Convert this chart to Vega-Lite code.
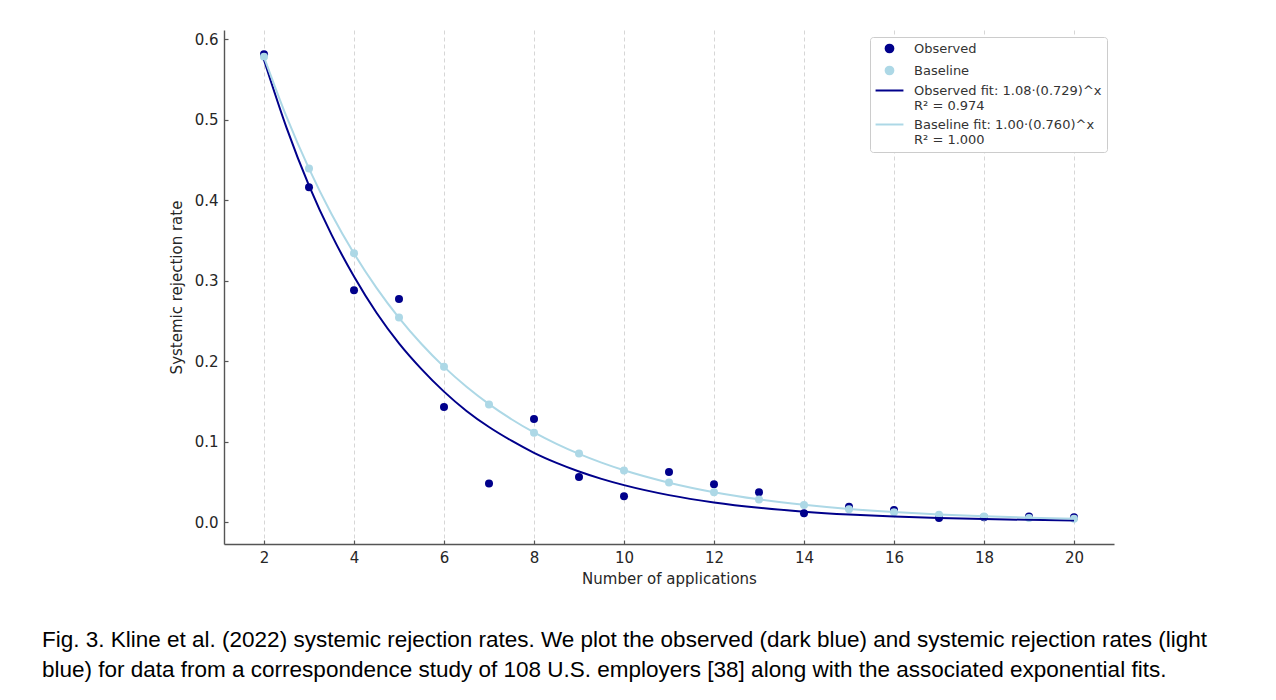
{
  "$schema": "https://vega.github.io/schema/vega-lite/v6.json",
  "autosize": {"type": "none"},
  "padding": {"left": 224, "top": 30, "right": 162, "bottom": 156},
  "width": 890,
  "height": 514,
  "background": "white",
  "config": {
    "view": {"stroke": null},
    "font": "DejaVu Sans",
    "axis": {
      "labelFont": "DejaVu Sans",
      "titleFont": "DejaVu Sans",
      "labelFontSize": 15,
      "titleFontSize": 15,
      "titleFontWeight": "normal",
      "labelColor": "#262626",
      "titleColor": "#262626",
      "domainColor": "#555555",
      "domainWidth": 1.4,
      "tickColor": "#555555",
      "tickWidth": 1.2,
      "tickSize": -4,
      "labelPadding": 10
    }
  },
  "title": {
    "text": ["Fig. 3.  Kline et al. (2022) systemic rejection rates. We plot the observed (dark blue) and systemic rejection rates (light", "blue) for data from a correspondence study of 108 U.S. employers [38] along with the associated exponential fits."],
    "orient": "bottom",
    "anchor": "start",
    "frame": "group",
    "dx": -182,
    "offset": 43,
    "font": "Liberation Sans",
    "fontSize": 22.5,
    "fontWeight": "normal",
    "lineHeight": 30,
    "color": "#000000"
  },
  "data": {
    "values": [
      {"x": 2, "series": "Observed", "kind": "point", "value": 0.581},
      {"x": 3, "series": "Observed", "kind": "point", "value": 0.416},
      {"x": 4, "series": "Observed", "kind": "point", "value": 0.288},
      {"x": 5, "series": "Observed", "kind": "point", "value": 0.277},
      {"x": 6, "series": "Observed", "kind": "point", "value": 0.143},
      {"x": 7, "series": "Observed", "kind": "point", "value": 0.048},
      {"x": 8, "series": "Observed", "kind": "point", "value": 0.128},
      {"x": 9, "series": "Observed", "kind": "point", "value": 0.056},
      {"x": 10, "series": "Observed", "kind": "point", "value": 0.032},
      {"x": 11, "series": "Observed", "kind": "point", "value": 0.062},
      {"x": 12, "series": "Observed", "kind": "point", "value": 0.047},
      {"x": 13, "series": "Observed", "kind": "point", "value": 0.037},
      {"x": 14, "series": "Observed", "kind": "point", "value": 0.011},
      {"x": 15, "series": "Observed", "kind": "point", "value": 0.019},
      {"x": 16, "series": "Observed", "kind": "point", "value": 0.015},
      {"x": 17, "series": "Observed", "kind": "point", "value": 0.005},
      {"x": 18, "series": "Observed", "kind": "point", "value": 0.006},
      {"x": 19, "series": "Observed", "kind": "point", "value": 0.007},
      {"x": 20, "series": "Observed", "kind": "point", "value": 0.006},
      {"x": 2, "series": "Baseline", "kind": "point", "value": 0.578},
      {"x": 3, "series": "Baseline", "kind": "point", "value": 0.439},
      {"x": 4, "series": "Baseline", "kind": "point", "value": 0.334},
      {"x": 5, "series": "Baseline", "kind": "point", "value": 0.254},
      {"x": 6, "series": "Baseline", "kind": "point", "value": 0.193},
      {"x": 7, "series": "Baseline", "kind": "point", "value": 0.146},
      {"x": 8, "series": "Baseline", "kind": "point", "value": 0.111},
      {"x": 9, "series": "Baseline", "kind": "point", "value": 0.085},
      {"x": 10, "series": "Baseline", "kind": "point", "value": 0.064},
      {"x": 11, "series": "Baseline", "kind": "point", "value": 0.049},
      {"x": 12, "series": "Baseline", "kind": "point", "value": 0.037},
      {"x": 13, "series": "Baseline", "kind": "point", "value": 0.028},
      {"x": 14, "series": "Baseline", "kind": "point", "value": 0.021},
      {"x": 15, "series": "Baseline", "kind": "point", "value": 0.016},
      {"x": 16, "series": "Baseline", "kind": "point", "value": 0.012},
      {"x": 17, "series": "Baseline", "kind": "point", "value": 0.009},
      {"x": 18, "series": "Baseline", "kind": "point", "value": 0.007},
      {"x": 19, "series": "Baseline", "kind": "point", "value": 0.005},
      {"x": 20, "series": "Baseline", "kind": "point", "value": 0.004},
      {"x": 2, "series": "Observed fit: 1.08·(0.729)^x|R² = 0.974", "kind": "fit", "value": 0.574},
      {"x": 2.5, "series": "Observed fit: 1.08·(0.729)^x|R² = 0.974", "kind": "fit", "value": 0.490},
      {"x": 3, "series": "Observed fit: 1.08·(0.729)^x|R² = 0.974", "kind": "fit", "value": 0.418},
      {"x": 3.5, "series": "Observed fit: 1.08·(0.729)^x|R² = 0.974", "kind": "fit", "value": 0.357},
      {"x": 4, "series": "Observed fit: 1.08·(0.729)^x|R² = 0.974", "kind": "fit", "value": 0.305},
      {"x": 4.5, "series": "Observed fit: 1.08·(0.729)^x|R² = 0.974", "kind": "fit", "value": 0.260},
      {"x": 5, "series": "Observed fit: 1.08·(0.729)^x|R² = 0.974", "kind": "fit", "value": 0.222},
      {"x": 5.5, "series": "Observed fit: 1.08·(0.729)^x|R² = 0.974", "kind": "fit", "value": 0.190},
      {"x": 6, "series": "Observed fit: 1.08·(0.729)^x|R² = 0.974", "kind": "fit", "value": 0.162},
      {"x": 6.5, "series": "Observed fit: 1.08·(0.729)^x|R² = 0.974", "kind": "fit", "value": 0.138},
      {"x": 7, "series": "Observed fit: 1.08·(0.729)^x|R² = 0.974", "kind": "fit", "value": 0.118},
      {"x": 7.5, "series": "Observed fit: 1.08·(0.729)^x|R² = 0.974", "kind": "fit", "value": 0.101},
      {"x": 8, "series": "Observed fit: 1.08·(0.729)^x|R² = 0.974", "kind": "fit", "value": 0.086},
      {"x": 8.5, "series": "Observed fit: 1.08·(0.729)^x|R² = 0.974", "kind": "fit", "value": 0.0735},
      {"x": 9, "series": "Observed fit: 1.08·(0.729)^x|R² = 0.974", "kind": "fit", "value": 0.0628},
      {"x": 9.5, "series": "Observed fit: 1.08·(0.729)^x|R² = 0.974", "kind": "fit", "value": 0.0536},
      {"x": 10, "series": "Observed fit: 1.08·(0.729)^x|R² = 0.974", "kind": "fit", "value": 0.0458},
      {"x": 11, "series": "Observed fit: 1.08·(0.729)^x|R² = 0.974", "kind": "fit", "value": 0.0334},
      {"x": 12, "series": "Observed fit: 1.08·(0.729)^x|R² = 0.974", "kind": "fit", "value": 0.0243},
      {"x": 13, "series": "Observed fit: 1.08·(0.729)^x|R² = 0.974", "kind": "fit", "value": 0.0177},
      {"x": 14, "series": "Observed fit: 1.08·(0.729)^x|R² = 0.974", "kind": "fit", "value": 0.0129},
      {"x": 15, "series": "Observed fit: 1.08·(0.729)^x|R² = 0.974", "kind": "fit", "value": 0.0094},
      {"x": 16, "series": "Observed fit: 1.08·(0.729)^x|R² = 0.974", "kind": "fit", "value": 0.0069},
      {"x": 17, "series": "Observed fit: 1.08·(0.729)^x|R² = 0.974", "kind": "fit", "value": 0.0050},
      {"x": 18, "series": "Observed fit: 1.08·(0.729)^x|R² = 0.974", "kind": "fit", "value": 0.0037},
      {"x": 19, "series": "Observed fit: 1.08·(0.729)^x|R² = 0.974", "kind": "fit", "value": 0.0027},
      {"x": 20, "series": "Observed fit: 1.08·(0.729)^x|R² = 0.974", "kind": "fit", "value": 0.0019},
      {"x": 2, "series": "Baseline fit: 1.00·(0.760)^x|R² = 1.000", "kind": "fit", "value": 0.5776},
      {"x": 2.5, "series": "Baseline fit: 1.00·(0.760)^x|R² = 1.000", "kind": "fit", "value": 0.5035},
      {"x": 3, "series": "Baseline fit: 1.00·(0.760)^x|R² = 1.000", "kind": "fit", "value": 0.4390},
      {"x": 3.5, "series": "Baseline fit: 1.00·(0.760)^x|R² = 1.000", "kind": "fit", "value": 0.3827},
      {"x": 4, "series": "Baseline fit: 1.00·(0.760)^x|R² = 1.000", "kind": "fit", "value": 0.3336},
      {"x": 4.5, "series": "Baseline fit: 1.00·(0.760)^x|R² = 1.000", "kind": "fit", "value": 0.2909},
      {"x": 5, "series": "Baseline fit: 1.00·(0.760)^x|R² = 1.000", "kind": "fit", "value": 0.2536},
      {"x": 5.5, "series": "Baseline fit: 1.00·(0.760)^x|R² = 1.000", "kind": "fit", "value": 0.2211},
      {"x": 6, "series": "Baseline fit: 1.00·(0.760)^x|R² = 1.000", "kind": "fit", "value": 0.1927},
      {"x": 6.5, "series": "Baseline fit: 1.00·(0.760)^x|R² = 1.000", "kind": "fit", "value": 0.1680},
      {"x": 7, "series": "Baseline fit: 1.00·(0.760)^x|R² = 1.000", "kind": "fit", "value": 0.1465},
      {"x": 7.5, "series": "Baseline fit: 1.00·(0.760)^x|R² = 1.000", "kind": "fit", "value": 0.1277},
      {"x": 8, "series": "Baseline fit: 1.00·(0.760)^x|R² = 1.000", "kind": "fit", "value": 0.1113},
      {"x": 8.5, "series": "Baseline fit: 1.00·(0.760)^x|R² = 1.000", "kind": "fit", "value": 0.0971},
      {"x": 9, "series": "Baseline fit: 1.00·(0.760)^x|R² = 1.000", "kind": "fit", "value": 0.0846},
      {"x": 9.5, "series": "Baseline fit: 1.00·(0.760)^x|R² = 1.000", "kind": "fit", "value": 0.0738},
      {"x": 10, "series": "Baseline fit: 1.00·(0.760)^x|R² = 1.000", "kind": "fit", "value": 0.0643},
      {"x": 11, "series": "Baseline fit: 1.00·(0.760)^x|R² = 1.000", "kind": "fit", "value": 0.0489},
      {"x": 12, "series": "Baseline fit: 1.00·(0.760)^x|R² = 1.000", "kind": "fit", "value": 0.0371},
      {"x": 13, "series": "Baseline fit: 1.00·(0.760)^x|R² = 1.000", "kind": "fit", "value": 0.0282},
      {"x": 14, "series": "Baseline fit: 1.00·(0.760)^x|R² = 1.000", "kind": "fit", "value": 0.0215},
      {"x": 15, "series": "Baseline fit: 1.00·(0.760)^x|R² = 1.000", "kind": "fit", "value": 0.0163},
      {"x": 16, "series": "Baseline fit: 1.00·(0.760)^x|R² = 1.000", "kind": "fit", "value": 0.0124},
      {"x": 17, "series": "Baseline fit: 1.00·(0.760)^x|R² = 1.000", "kind": "fit", "value": 0.0094},
      {"x": 18, "series": "Baseline fit: 1.00·(0.760)^x|R² = 1.000", "kind": "fit", "value": 0.0072},
      {"x": 19, "series": "Baseline fit: 1.00·(0.760)^x|R² = 1.000", "kind": "fit", "value": 0.0054},
      {"x": 20, "series": "Baseline fit: 1.00·(0.760)^x|R² = 1.000", "kind": "fit", "value": 0.0041}
    ]
  },
  "encoding": {
    "x": {
      "field": "x",
      "type": "quantitative",
      "scale": {"domain": [1.111, 20.889], "nice": false, "zero": false},
      "axis": {
        "values": [2, 4, 6, 8, 10, 12, 14, 16, 18, 20],
        "title": "Number of applications",
        "titlePadding": 6,
        "grid": true,
        "gridColor": "#cccccc",
        "gridDash": [4, 3],
        "gridWidth": 0.8
      }
    },
    "y": {
      "field": "value",
      "type": "quantitative",
      "scale": {"domain": [-0.0273, 0.6112], "nice": false, "zero": false},
      "axis": {
        "values": [0, 0.1, 0.2, 0.3, 0.4, 0.5, 0.6],
        "format": ".1f",
        "title": "Systemic rejection rate",
        "titlePadding": 10,
        "grid": false
      }
    },
    "color": {
      "field": "series",
      "type": "nominal",
      "scale": {
        "domain": ["Observed", "Baseline", "Observed fit: 1.08·(0.729)^x|R² = 0.974", "Baseline fit: 1.00·(0.760)^x|R² = 1.000"],
        "range": ["#00008b", "#add8e6", "#00008b", "#add8e6"]
      },
      "legend": {
        "title": null,
        "orient": "top-right",
        "offset": 7,
        "labelExpr": "split(datum.label, '|')",
        "labelFont": "DejaVu Sans",
        "labelFontSize": 13,
        "labelColor": "#333333",
        "labelLimit": 400,
        "fillColor": "white",
        "strokeColor": "#cccccc",
        "cornerRadius": 3,
        "padding": 5,
        "rowPadding": 5,
        "symbolSize": 60,
        "symbolOffset": 8,
        "labelOffset": 18,
        "encode": {
          "symbols": {
            "update": {
              "shape": {"signal": "indexof(datum.value, 'fit') >= 0 ? 'M-3.6,0H3.6' : 'circle'"},
              "stroke": {"signal": "indexof(datum.value, 'fit') >= 0 ? (indexof(datum.value, 'Observed') >= 0 ? '#00008b' : '#add8e6') : 'transparent'"},
              "strokeWidth": {"value": 2}
            }
          }
        }
      }
    }
  },
  "layer": [
    {
      "transform": [{"filter": "datum.series == 'Observed'"}],
      "mark": {"type": "point", "filled": true, "size": 64, "opacity": 1}
    },
    {
      "transform": [{"filter": "datum.series == 'Baseline'"}],
      "mark": {"type": "point", "filled": true, "size": 64, "opacity": 1}
    },
    {
      "transform": [{"filter": "datum.kind == 'fit'"}],
      "mark": {"type": "line", "strokeWidth": 2, "interpolate": "monotone"}
    }
  ]
}
